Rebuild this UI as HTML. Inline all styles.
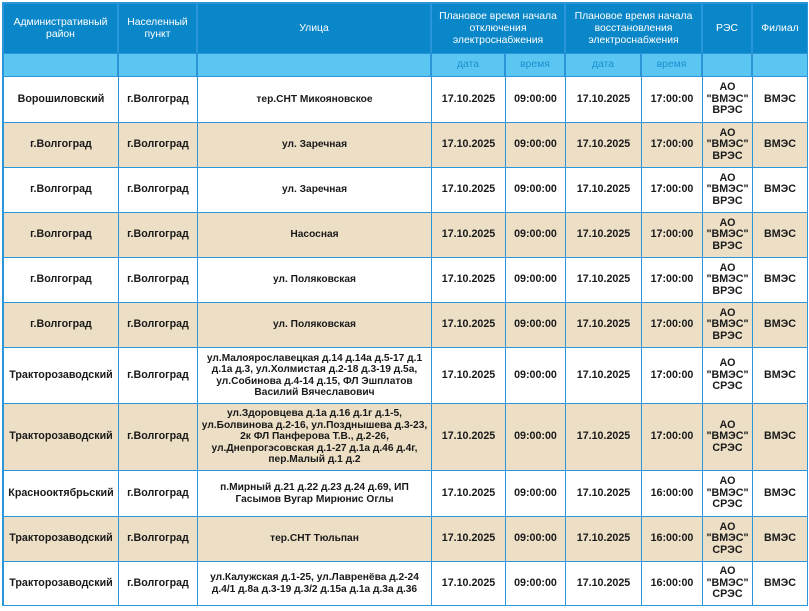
<!DOCTYPE html>
<html><head><meta charset="utf-8"><style>
body{margin:0;width:809px;height:611px;background:#fff;overflow:hidden;font-family:"Liberation Sans","DejaVu Sans",sans-serif;}
#t{position:absolute;left:2px;top:2px;width:806px;height:604px;background:#2a95d8;}
.c{position:absolute;display:flex;align-items:center;justify-content:center;text-align:center;font-size:10.7px;line-height:11.5px;color:#1a1a1a;font-weight:bold;box-sizing:border-box;padding:0 2px;}
.h{background:#0a87c8;color:#fff;font-weight:normal;font-size:10.4px;line-height:12px;}
.s{background:#5cc6f3;color:#1a8fd0;font-weight:normal;font-size:10.4px;}
.w{background:#fff;}
.b{background:#ecdfc6;}
.n{white-space:nowrap;font-size:10.2px;}
</style></head><body><div id="t"></div>
<div class="c h" style="left:4px;top:4px;width:113px;height:49px">Административный район</div>
<div class="c h" style="left:119px;top:4px;width:77px;height:49px">Населенный пункт</div>
<div class="c h" style="left:198px;top:4px;width:232px;height:49px">Улица</div>
<div class="c h" style="left:432px;top:4px;width:132px;height:49px">Плановое время начала отключения электроснабжения</div>
<div class="c h" style="left:566px;top:4px;width:135px;height:49px">Плановое время начала восстановления электроснабжения</div>
<div class="c h" style="left:703px;top:4px;width:48px;height:49px">РЭС</div>
<div class="c h" style="left:753px;top:4px;width:54px;height:49px">Филиал</div>
<div class="c s" style="left:4px;top:54px;width:113px;height:22px"></div>
<div class="c s" style="left:119px;top:54px;width:77px;height:22px"></div>
<div class="c s" style="left:198px;top:54px;width:232px;height:22px"></div>
<div class="c s" style="left:432px;top:54px;width:72px;height:22px">дата</div>
<div class="c s" style="left:506px;top:54px;width:58px;height:22px">время</div>
<div class="c s" style="left:566px;top:54px;width:74px;height:22px">дата</div>
<div class="c s" style="left:642px;top:54px;width:59px;height:22px">время</div>
<div class="c s" style="left:703px;top:54px;width:48px;height:22px"></div>
<div class="c s" style="left:753px;top:54px;width:54px;height:22px"></div>
<div id="rows"></div>
<script>
var xs=[3,118,197,431,505,565,641,702,752,807];
var ys=[76,122,167,212,257,302,347,403,470,516,561,605];
var d=[
["Ворошиловский","тер.СНТ Микояновское","17:00:00","ВРЭС"],
["г.Волгоград","ул. Заречная","17:00:00","ВРЭС"],
["г.Волгоград","ул. Заречная","17:00:00","ВРЭС"],
["г.Волгоград","Насосная","17:00:00","ВРЭС"],
["г.Волгоград","ул. Поляковская","17:00:00","ВРЭС"],
["г.Волгоград","ул. Поляковская","17:00:00","ВРЭС"],
["Тракторозаводский","ул.Малоярославецкая д.14 д.14а д.5-17 д.1<br>д.1а д.3, ул.Холмистая д.2-18 д.3-19 д.5а,<br>ул.Собинова д.4-14 д.15, ФЛ Эшплатов<br>Василий Вячеславович","17:00:00","СРЭС"],
["Тракторозаводский","ул.Здоровцева д.1а д.16 д.1г д.1-5,<br>ул.Болвинова д.2-16, ул.Позднышева д.3-23,<br>2к ФЛ Панферова Т.В., д.2-26,<br>ул.Днепрогэсовская д.1-27 д.1а д.46 д.4г,<br>пер.Малый д.1 д.2","17:00:00","СРЭС"],
["Краснооктябрьский","п.Мирный д.21 д.22 д.23 д.24 д.69, ИП<br>Гасымов Вугар Мирюнис Оглы","16:00:00","СРЭС"],
["Тракторозаводский","тер.СНТ Тюльпан","16:00:00","СРЭС"],
["Тракторозаводский","ул.Калужская д.1-25, ул.Лавренёва д.2-24<br>д.4/1 д.8а д.3-19 д.3/2 д.15а д.1а д.3а д.36","16:00:00","СРЭС"]];
var h="";
for(var r=0;r<d.length;r++){var v=[d[r][0],"г.Волгоград",d[r][1],"17.10.2025","09:00:00","17.10.2025",d[r][2],"АО<br>\"ВМЭС\"<br>"+d[r][3],"ВМЭС"];
for(var i=0;i<9;i++){h+='<div class="c '+(r%2?'b':'w')+(i==2?' n':'')+'" style="left:'+(xs[i]+1)+'px;top:'+(ys[r]+1)+'px;width:'+(xs[i+1]-xs[i]-1)+'px;height:'+(ys[r+1]-ys[r]-1)+'px">'+v[i]+'</div>';}}
document.getElementById("rows").innerHTML=h;
</script>
</body></html>
